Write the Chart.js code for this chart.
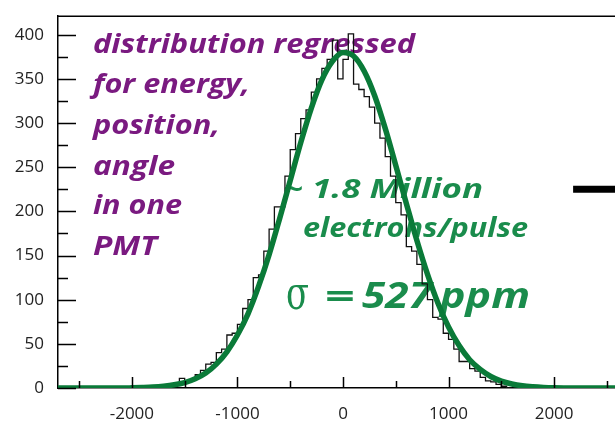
<!DOCTYPE html>
<html>
<head>
<meta charset="utf-8">
<script src="https://cdn.jsdelivr.net/npm/chart.js@4.4.1/dist/chart.umd.min.js"></script>
<style>
  html, body { margin: 0; padding: 0; background: #fff; overflow: hidden; width: 615px; height: 421px; }
  canvas { display: block; }
</style>
</head>
<body>
<canvas id="grafico" width="628" height="421"></canvas>
<script>
// dados
const binInicio = -1600;
const binLargura = 50;
const contagens = [2, 4, 11, 7, 9, 15, 20, 27, 29, 40, 44, 60, 62, 72, 90, 100,
    125, 128, 155, 180, 205, 205, 240, 270, 288, 305, 315, 335, 350, 362, 372, 394,
    350, 372, 401, 344, 338, 330, 318, 300, 283, 262, 240, 210, 196, 160, 155, 140,
    118, 100, 80, 78, 62, 55, 44, 30, 30, 22, 19, 12, 8, 7, 4, 2];

const ajusteX = [-2700, -2600, -2500, -2400, -2300, -2200, -2100, -2000, -1900, -1800,
    -1700, -1600, -1500, -1400, -1300, -1200, -1100, -1000, -900, -800, -700, -600,
    -500, -400, -300, -200, -100, 0, 100, 200, 300, 400, 500, 600, 700, 800, 900,
    1000, 1100, 1200, 1300, 1400, 1500, 1600, 1700, 1800, 1900, 2000, 2100, 2200,
    2300, 2400, 2500, 2600, 2700];
const ajusteY = [0, 0, 0, 0, 0, 0, 0, 0.2, 0.5, 1.0,
    2.0, 3.6, 6.2, 10.5, 17, 27, 41, 60, 84, 115, 151, 192,
    235, 278, 317, 349, 370, 380, 376, 359, 331, 294, 252, 209, 167, 129, 96,
    69, 48, 32, 21, 13, 7.7, 4.5, 2.5, 1.4, 0.7, 0.3, 0.1, 0,
    0, 0, 0, 0, 0];

const barraPretaX = [2180, 2700];
const barraPretaY = [225, 225];

const xRotulos = [-2000, -1000, 0, 1000, 2000];
const xMenores = [-2500, -1500, -500, 500, 1500, 2500];
const yRotulos = [0, 50, 100, 150, 200, 250, 300, 350, 400];
const yMenores = [25, 75, 125, 175, 225, 275, 325, 375];

const textoRoxo = ['distribution regressed', 'for energy,', 'position,', 'angle', 'in one', 'PMT'];
const textoVerde = ['~ 1.8 Million', 'electrons/pulse'];
const textoSigma = ['\u03c3', '=', '527', 'ppm'];

const ROXO = '#7a1a80';
const VERDE_TEXTO = '#1a8c4c';
const VERDE_CURVA = '#0a7a38';

// histograma em degraus: pontos nas bordas esquerdas dos bins
const histPontos = [{ x: binInicio, y: 0 }];
contagens.forEach((c, i) => histPontos.push({ x: binInicio + i * binLargura, y: c }));
histPontos.push({ x: binInicio + contagens.length * binLargura, y: 0 });

const ajustePontos = ajusteX.map((x, i) => ({ x: x, y: ajusteY[i] }));
const barraPontos = barraPretaX.map((x, i) => ({ x: x, y: barraPretaY[i] }));

// escreve texto esticado para caber numa largura
function textoLargura(ctx, t, x, y, w) {
    const m = ctx.measureText(t).width;
    ctx.save();
    ctx.translate(x, y);
    ctx.scale(w / m, 1);
    ctx.fillText(t, 0, 0);
    ctx.restore();
}

const anotacoes = {
    id: 'anotacoes',
    beforeDatasetsDraw(chart) {
        const ctx = chart.ctx;
        ctx.save();
        ctx.textBaseline = 'alphabetic';
        ctx.textAlign = 'left';

        ctx.fillStyle = ROXO;
        ctx.font = 'italic bold 27px "Open Sans"';
        const baseRoxo = [53, 93, 134, 175, 214, 255];
        const largRoxo = [322, 157, 127, 82, 89, 64];
        textoRoxo.forEach((t, i) => textoLargura(ctx, t, 93, baseRoxo[i], largRoxo[i]));

        ctx.fillStyle = VERDE_TEXTO;
        ctx.font = 'italic bold 26px "Open Sans"';
        textoLargura(ctx, textoVerde[0], 283, 198, 200);
        textoLargura(ctx, textoVerde[1], 303, 237, 225);

        ctx.font = 'normal 46px "DejaVu Serif"';
        textoLargura(ctx, textoSigma[0], 286, 309, 23);
        ctx.font = 'bold 34px "Open Sans"';
        textoLargura(ctx, textoSigma[1], 325, 308, 30);
        ctx.font = 'italic bold 35px "Open Sans"';
        textoLargura(ctx, textoSigma[2], 362, 308, 70);
        textoLargura(ctx, textoSigma[3], 440, 308, 90);
        ctx.restore();
    },
    afterDraw(chart) {
        const ctx = chart.ctx;
        const area = chart.chartArea;
        const sx = chart.scales.x;
        const sy = chart.scales.y;
        ctx.save();
        ctx.strokeStyle = '#000';
        ctx.lineWidth = 1.5;
        ctx.beginPath();
        // borda de cima
        ctx.moveTo(area.left, area.top);
        ctx.lineTo(area.right, area.top);
        // marcas do eixo y (para dentro)
        yRotulos.forEach(v => {
            const p = Math.round(sy.getPixelForValue(v)) + 0.5;
            ctx.moveTo(area.left, p);
            ctx.lineTo(area.left + 18, p);
        });
        yMenores.forEach(v => {
            const p = Math.round(sy.getPixelForValue(v)) + 0.5;
            ctx.moveTo(area.left, p);
            ctx.lineTo(area.left + 10, p);
        });
        // marcas do eixo x (para cima)
        xRotulos.forEach(v => {
            const p = Math.round(sx.getPixelForValue(v)) + 0.5;
            ctx.moveTo(p, area.bottom);
            ctx.lineTo(p, area.bottom - 11);
        });
        xMenores.forEach(v => {
            const p = Math.round(sx.getPixelForValue(v)) + 0.5;
            ctx.moveTo(p, area.bottom);
            ctx.lineTo(p, area.bottom - 7);
        });
        ctx.stroke();
        ctx.restore();
    }
};

const ctx = document.getElementById('grafico').getContext('2d');
new Chart(ctx, {
    type: 'line',
    data: {
        datasets: [
            {
                label: 'ajuste',
                data: ajustePontos,
                borderColor: VERDE_CURVA,
                borderWidth: 5.5,
                pointRadius: 0,
                cubicInterpolationMode: 'monotone',
                order: 0
            },
            {
                label: 'histograma',
                data: histPontos,
                borderColor: '#111',
                borderWidth: 1.3,
                pointRadius: 0,
                stepped: 'after',
                order: 1
            },
            {
                label: 'barra',
                data: barraPontos,
                borderColor: '#000',
                borderWidth: 7,
                pointRadius: 0,
                order: 2
            }
        ]
    },
    options: {
        responsive: false,
        animation: false,
        layout: { padding: { top: 9, left: 0, right: 0, bottom: 0 } },
        plugins: { legend: { display: false }, tooltip: { enabled: false } },
        scales: {
            x: {
                type: 'linear',
                min: -2700,
                max: 2700,
                afterBuildTicks: s => { s.ticks = xRotulos.map(v => ({ value: v })); },
                afterFit: s => { s.height = 33; },
                grid: { display: false },
                border: { display: true, color: '#000', width: 1.5 },
                ticks: {
                    color: '#222',
                    padding: 8,
                    maxRotation: 0,
                    callback: v => String(v),
                    font: { family: 'Open Sans', size: 17 }
                }
            },
            y: {
                min: 0,
                max: 421,
                afterBuildTicks: s => { s.ticks = yRotulos.map(v => ({ value: v })); },
                afterFit: s => { s.width = 58; },
                grid: { display: false },
                border: { display: true, color: '#000', width: 1.5 },
                ticks: {
                    color: '#222',
                    padding: 6,
                    callback: v => String(v),
                    font: { family: 'Open Sans', size: 17 }
                }
            }
        }
    },
    plugins: [anotacoes]
});
</script>
</body>
</html>
